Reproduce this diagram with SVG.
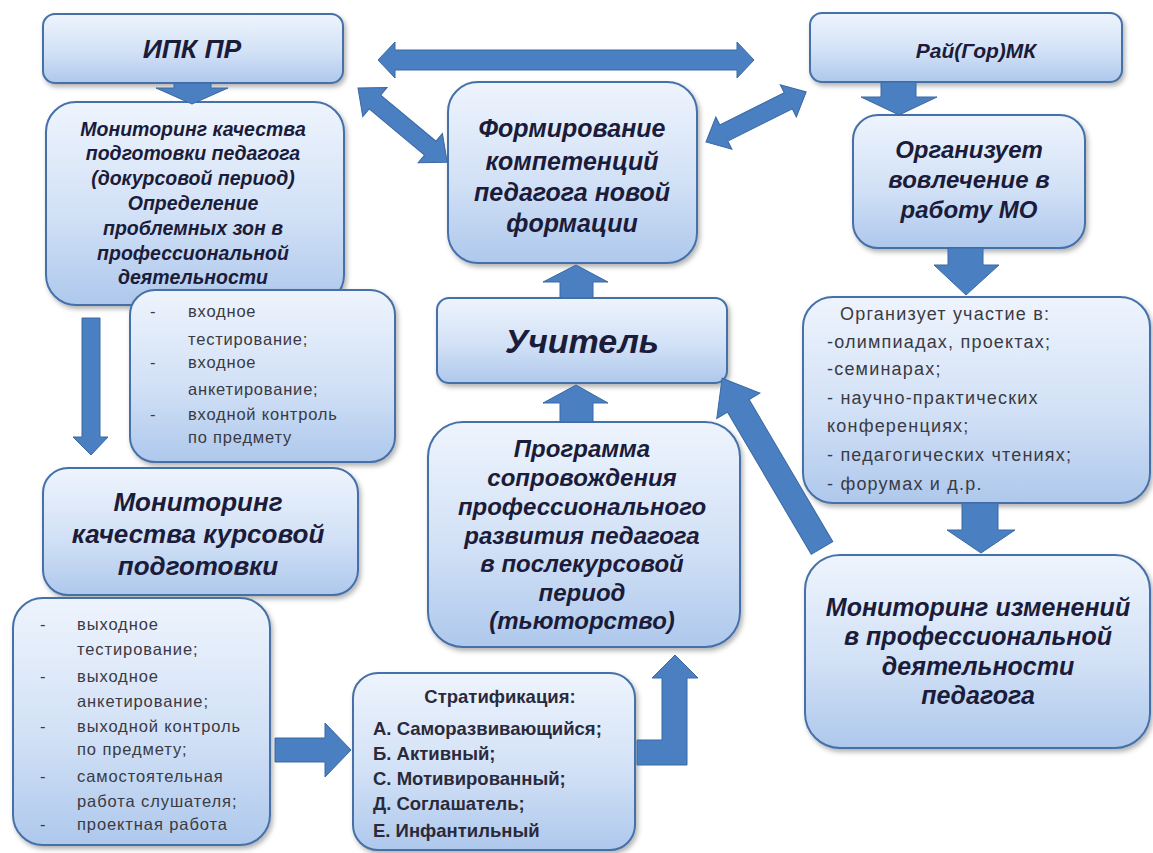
<svg xmlns="http://www.w3.org/2000/svg" width="1153" height="853" viewBox="0 0 1153 853">
<defs>
<linearGradient id="bg" x1="0" y1="0" x2="0" y2="1">
<stop offset="0" stop-color="#eef4fd"/>
<stop offset="0.55" stop-color="#d2e1f6"/>
<stop offset="1" stop-color="#aec8ec"/>
</linearGradient>
<filter id="sh" x="-10%" y="-10%" width="125%" height="130%">
<feDropShadow dx="2" dy="3" stdDeviation="2.5" flood-color="#000" flood-opacity="0.3"/>
</filter>
<style>
.box{fill:url(#bg);stroke:#4570a8;stroke-width:2;filter:url(#sh)}
.h{font-family:"Liberation Sans","DejaVu Sans",sans-serif;font-weight:bold;font-style:italic;fill:#1b1b3a;text-anchor:middle}
.t{font-family:"Liberation Sans","DejaVu Sans",sans-serif;fill:#3a3a44}
.s{font-family:"Liberation Sans","DejaVu Sans",sans-serif;font-weight:bold;fill:#2a2a3a}
.ar{fill:#4a7fc1;stroke:#3b68a3;stroke-width:1}
</style>
</defs>
<rect width="1153" height="853" fill="#ffffff"/>

<g id="n1">
<rect class="box" x="43" y="14" width="300" height="69" rx="12"/>
<text class="h" x="192" y="58" font-size="26.5">ИПК ПР</text>
</g>

<g id="n2">
<rect class="box" x="46" y="102" width="298" height="203" rx="30"/>
<g class="h" font-size="19.5">
<text x="193" y="136">Мониторинг качества</text>
<text x="193" y="160">подготовки педагога</text>
<text x="193" y="185">(докурсовой период)</text>
<text x="193" y="210">Определение</text>
<text x="193" y="235">проблемных зон в</text>
<text x="193" y="260">профессиональной</text>
<text x="193" y="284">деятельности</text>
</g>
</g>

<g id="n3">
<rect class="box" x="130" y="290" width="265" height="172" rx="25"/>
<g class="t" font-size="16.5" letter-spacing="0.8">
<text x="150" y="317">-</text><text x="188" y="317">входное</text>
<text x="188" y="345">тестирование;</text>
<text x="150" y="368">-</text><text x="188" y="368">входное</text>
<text x="188" y="395">анкетирование;</text>
<text x="150" y="420">-</text><text x="188" y="420">входной  контроль</text>
<text x="188" y="443">по предмету</text>
</g>
</g>

<g id="n4">
<rect class="box" x="43" y="468" width="315" height="127" rx="25"/>
<g class="h" font-size="26">
<text x="198" y="511">Мониторинг</text>
<text x="198" y="543">качества курсовой</text>
<text x="198" y="575">подготовки</text>
</g>
</g>

<g id="n5">
<rect class="box" x="13" y="598" width="257" height="247" rx="30"/>
<g class="t" font-size="16.5" letter-spacing="0.9">
<text x="40" y="630">-</text><text x="77" y="630">выходное</text>
<text x="77" y="655">тестирование;</text>
<text x="40" y="682">-</text><text x="77" y="682">выходное</text>
<text x="77" y="707">анкетирование;</text>
<text x="40" y="732">-</text><text x="77" y="732">выходной  контроль</text>
<text x="77" y="755">по предмету;</text>
<text x="40" y="782">-</text><text x="77" y="782">самостоятельная</text>
<text x="77" y="807">работа слушателя;</text>
<text x="40" y="830">-</text><text x="77" y="830">проектная работа</text>
</g>
</g>

<g id="n6">
<rect class="box" x="353" y="673" width="282" height="177" rx="25"/>
<g class="s" font-size="18.5">
<text x="500" y="703" text-anchor="middle">Стратификация:</text>
<text x="373" y="735">А. Саморазвивающийся;</text>
<text x="373" y="760">Б. Активный;</text>
<text x="373" y="785">С. Мотивированный;</text>
<text x="373" y="810">Д. Соглашатель;</text>
<text x="373" y="837">Е. Инфантильный</text>
</g>
</g>

<g id="n7">
<rect class="box" x="428" y="422" width="312" height="225" rx="35"/>
<g class="h" font-size="24">
<text x="582" y="457">Программа</text>
<text x="582" y="486">сопровождения</text>
<text x="582" y="515">профессионального</text>
<text x="582" y="544">развития педагога</text>
<text x="582" y="572">в послекурсовой</text>
<text x="582" y="601">период</text>
<text x="582" y="629">(тьюторство)</text>
</g>
</g>

<g id="n8">
<rect class="box" x="448" y="82" width="249" height="181" rx="30"/>
<g class="h" font-size="25">
<text x="572" y="137">Формирование</text>
<text x="572" y="170">компетенций</text>
<text x="572" y="201">педагога новой</text>
<text x="572" y="232">формации</text>
</g>
</g>

<g id="n9">
<rect class="box" x="437" y="298" width="290" height="85" rx="12"/>
<text class="h" x="582" y="353" font-size="34">Учитель</text>
</g>

<g id="n10">
<rect class="box" x="810" y="13" width="312" height="69" rx="12"/>
<text class="h" x="976" y="58" font-size="21">Рай(Гор)МК</text>
</g>

<g id="n11">
<rect class="box" x="853" y="115" width="232" height="133" rx="25"/>
<g class="h" font-size="24">
<text x="969" y="158">Организует</text>
<text x="969" y="188">вовлечение в</text>
<text x="969" y="218">работу МО</text>
</g>
</g>

<g id="n12">
<rect class="box" x="803" y="297" width="347" height="206" rx="30"/>
<g class="t" font-size="18" letter-spacing="1.2">
<text x="840" y="320">Организует участие  в:</text>
<text x="827" y="348">-олимпиадах, проектах;</text>
<text x="827" y="375">-семинарах;</text>
<text x="827" y="404">- научно-практических</text>
<text x="827" y="432">конференциях;</text>
<text x="827" y="461">- педагогических  чтениях;</text>
<text x="827" y="490">- форумах и д.р.</text>
</g>
</g>

<g id="n13">
<rect class="box" x="805" y="555" width="345" height="193" rx="35"/>
<g class="h" font-size="25">
<text x="978" y="616">Мониторинг изменений</text>
<text x="978" y="645">в профессиональной</text>
<text x="978" y="675">деятельности</text>
<text x="978" y="704">педагога</text>
</g>
</g>

<g id="connectors">
<polygon class="ar" points="174,83 211,83 211,88 228,88 192,104 156,88 174,88"/>
<polygon class="ar" points="82,318 100,318 100,437 108,437 91,455 73,437 82,437"/>
<polygon class="ar" points="881,82 916,82 916,97 937,97 899,115 861,97 881,97"/>
<polygon class="ar" points="948,248 983,248 983,265 999,265 966,295 934,265 948,265"/>
<polygon class="ar" points="962,503 998,503 998,530 1015,530 981,553 947,530 962,530"/>
<polygon class="ar" points="560,422 593,422 593,403 608,403 576,385 543,403 560,403"/>
<polygon class="ar" points="560,298 593,298 593,282 608,282 576,265 543,282 560,282"/>
<polygon class="ar" points="275,738 325,738 325,723 351,750 325,777 325,762 275,762"/>
<polygon class="ar" points="637,740 662,740 662,678 652,678 675,655 698,678 687,678 687,765 637,765"/>
<polygon class="ar" transform="translate(822,548) rotate(-120.47)" points="0,-12.5 165,-12.5 165,-25 197,0 165,25 165,12.5 0,12.5"/>
<polygon class="ar" transform="translate(378,60)" points="0,0 17,-18 17,-10 359,-10 359,-18 376,0 359,18 359,10 17,10 17,18"/>
<polygon class="ar" transform="translate(358,88) rotate(39.74)" points="0,0 22,-19 22,-9 94,-9 94,-19 116,0 94,19 94,9 22,9 22,19"/>
<polygon class="ar" transform="translate(706,142) rotate(-26.57)" points="0,0 20,-18 20,-9 92,-9 92,-18 112,0 92,18 92,9 20,9 20,18"/>
</g>
</svg>
